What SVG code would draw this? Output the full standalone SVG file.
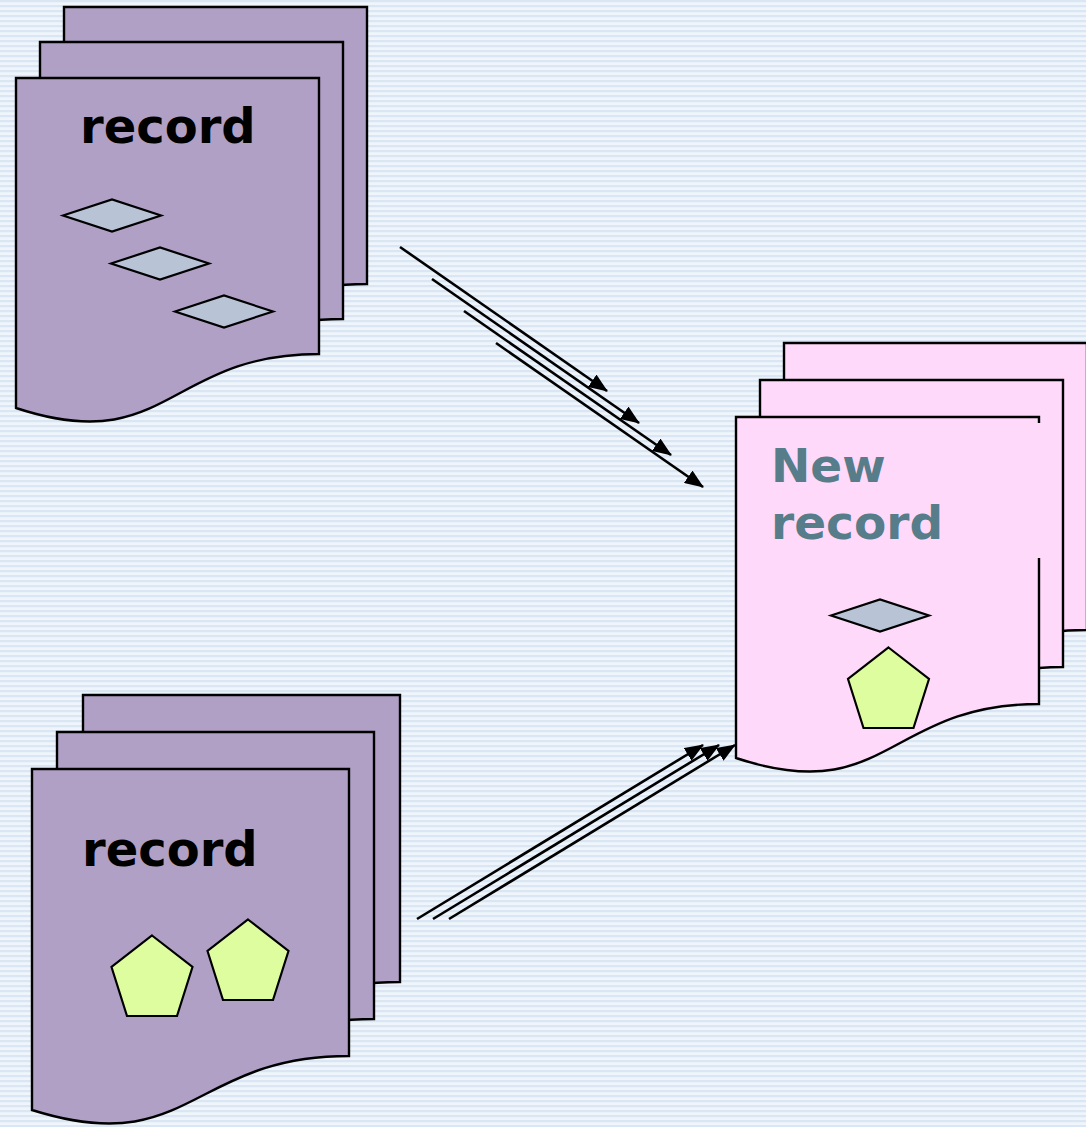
<svg xmlns="http://www.w3.org/2000/svg" width="1086" height="1127" viewBox="0 0 1086 1127">
  <defs>
    <!-- fine horizontal pinstripe backdrop -->
    <pattern id="stripes" width="8" height="5" patternUnits="userSpaceOnUse">
      <rect width="8" height="5" fill="#eff5fb"/>
      <rect width="8" height="2.2" fill="#dae6f3"/>
    </pattern>
    <marker id="arrow" markerUnits="userSpaceOnUse" markerWidth="19" markerHeight="15" refX="18" refY="7.5" orient="auto">
      <path d="M0,0 L19,7.5 L0,15 Z" fill="#000"/>
    </marker>
    <path id="diamond" d="M-49,0 L0,-16 L49,0 L0,16 Z"/>
    <path id="pentagon" d="M0,0 L40.5,31.5 L25,80.5 L-25,80.5 L-40.5,31.5 Z"/>
  </defs>
  <style>
    .page { stroke: #000; stroke-width: 2.4; }
    .old { fill: #b1a0c6; }
    .new { fill: #ffd9fa; }
    .dia { fill: #b8c4d6; stroke: #000; stroke-width: 2.2; }
    .pent { fill: #ddfd9e; stroke: #000; stroke-width: 2.2; }
    .label { font-family: "DejaVu Sans", Verdana, sans-serif; font-weight: bold; }
    .link { stroke: #000; stroke-width: 2.6; fill: none; marker-end: url(#arrow); }
  </style>

  <rect width="1086" height="1127" fill="url(#stripes)"/>

  <!-- upper source stack: record with diamonds -->
  <g id="record-diamonds">
    <path class="page old" d="M64,7 H367 V284 C215.5,284 215.5,388 64,338 Z"/>
    <path class="page old" d="M40,42 H343 V319 C191.5,319 191.5,423 40,373 Z"/>
    <path class="page old" d="M16,78 H319 V354 C167.5,354 167.5,458 16,408 Z"/>
    <text class="label" x="80" y="143" font-size="48" fill="#000">record</text>
    <use href="#diamond" class="dia" x="112" y="215.5"/>
    <use href="#diamond" class="dia" x="160" y="263.5"/>
    <use href="#diamond" class="dia" x="224" y="311.5"/>
  </g>

  <!-- lower source stack: record with pentagons -->
  <g id="record-pentagons">
    <path class="page old" d="M83,695 H400 V982 C241.5,982 241.5,1086 83,1036 Z"/>
    <path class="page old" d="M57,732 H374 V1019 C215.5,1019 215.5,1123 57,1073 Z"/>
    <path class="page old" d="M32,769 H349 V1056 C190.5,1056 190.5,1160 32,1110 Z"/>
    <text class="label" x="82" y="866" font-size="48" fill="#000">record</text>
    <use href="#pentagon" class="pent" x="152" y="935.5"/>
    <use href="#pentagon" class="pent" x="248" y="919.5"/>
  </g>

  <!-- merged result stack -->
  <g id="new-record">
    <path class="page new" d="M784,343 H1087 V630 C935.5,630 935.5,734 784,684 Z"/>
    <path class="page new" d="M760,380 H1063 V667 C911.5,667 911.5,771 760,721 Z"/>
    <path class="page new" d="M736,417 H1039 V704 C887.5,704 887.5,808 736,758 Z"/>
    <!-- label box, filled so it hides the page edge behind the title -->
    <rect x="752" y="423" width="292" height="135" fill="#ffd9fa"/>
    <text class="label" font-size="47" fill="#567d89">
      <tspan x="771" y="482">New</tspan>
      <tspan x="771" y="539">record</tspan>
    </text>
    <use href="#diamond" class="dia" x="880" y="615.5"/>
    <use href="#pentagon" class="pent" x="888.5" y="647.5"/>
  </g>

  <g id="connectors">
    <line class="link" x1="400" y1="247" x2="607" y2="391"/>
    <line class="link" x1="432" y1="279" x2="639" y2="423"/>
    <line class="link" x1="464" y1="311" x2="671" y2="455"/>
    <line class="link" x1="496" y1="343" x2="703" y2="487"/>
    <line class="link" x1="417" y1="919" x2="703" y2="745"/>
    <line class="link" x1="433" y1="919" x2="719" y2="745"/>
    <line class="link" x1="449" y1="919" x2="735" y2="745"/>
  </g>
</svg>
